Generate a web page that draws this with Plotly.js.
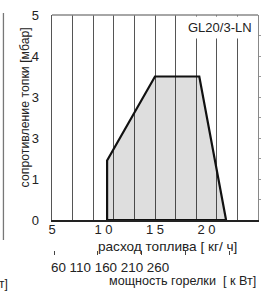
<!DOCTYPE html>
<html>
<head>
<meta charset="utf-8">
<script src="https://cdn.plot.ly/plotly-3.0.1.min.js"></script>
<style>html,body{margin:0;padding:0;background:#fff;}#chart{width:264px;height:291px;}</style>
</head>
<body>
<div id="chart"></div>
<script>
// Working-range polygon of burner GL20/3-LN
const flowKgH = [10.35, 10.35, 15.0, 19.3, 21.9, 10.35];
const resistanceMbar = [0, 1.45, 3.5, 3.5, 0, 0];

// Axis ticks
const gridVals = [7, 9, 11, 13, 15, 17, 19, 21, 23];
const flowTickVals = [5, 10, 15, 20, 25];
const flowTickText = ['5', '1 0', '1 5', '2 0', '2 5'];
const yTickVals = [0, 1, 2, 3, 4, 5];
const yTickText = ['0', '1', '3', '3', '4', '5'];
const yMinorVals = [0.5, 1, 1.5, 2, 2.5, 3, 3.5, 4, 4.5];
const powerTickPos = [5.2, 9.45, 13.7, 17.95, 22.2];
const powerLabels = ['60', '110', '160', '210', '260'];

const F = 'Liberation Sans, Arial, sans-serif';

const traces = [
  {x: flowKgH, y: resistanceMbar, type: 'scatter', mode: 'lines', fill: 'toself',
   fillcolor: 'rgba(0,0,0,0.13)', line: {color: '#111', width: 2.2}, hoverinfo: 'skip'},
  {x: [5, 25], y: [0, 0], xaxis: 'x3', yaxis: 'y', mode: 'markers', marker: {opacity: 0}, hoverinfo: 'skip'},
  {x: [5, 25], y: [0, 0], xaxis: 'x', yaxis: 'y2', mode: 'markers', marker: {opacity: 0}, hoverinfo: 'skip'},
  {x: [5, 25], y: [0, 0], xaxis: 'x2', yaxis: 'y', mode: 'markers', marker: {opacity: 0}, hoverinfo: 'skip'}
];

const H = 235, B = 250; // paper height px, paper bottom px
const py = v => (B - v) / H;
const px = v => (v - 51.7) / 206.6;

const layout = {
  width: 264, height: 291,
  margin: {l: 52, r: 6, t: 15, b: 41, pad: 0},
  paper_bgcolor: '#fff', plot_bgcolor: '#fff',
  showlegend: false,
  font: {family: F, size: 12, color: '#222'},
  xaxis: {range: [5, 25], tickvals: gridVals, showticklabels: false, ticks: '',
          showgrid: true, gridcolor: '#555', gridwidth: 1, zeroline: false,
          showline: true, linecolor: '#222', linewidth: 1.5, mirror: false},
  xaxis3: {range: [5, 25], overlaying: 'x', anchor: 'y', side: 'bottom',
           tickvals: flowTickVals, ticktext: flowTickText, ticks: '', showgrid: false,
           ticklabelstandoff: 0,
           zeroline: false, showline: false, tickfont: {family: F, size: 13, color: '#222'}},
  xaxis2: {range: [5, 25], overlaying: 'x', anchor: 'free', position: 0, side: 'bottom',
           tickvals: powerTickPos, showticklabels: false, ticks: 'outside', ticklen: 4,
           tickwidth: 1, tickcolor: '#444', showgrid: false, zeroline: false, showline: false},
  yaxis: {range: [0, 5], domain: [30 / H, 1], tickvals: yTickVals, ticktext: yTickText,
          ticks: '', ticklabelstandoff: 9, showgrid: false, zeroline: false,
          showline: true, linecolor: '#555', linewidth: 1.3, mirror: false,
          tickfont: {family: F, size: 13, color: '#222'}},
  yaxis2: {range: [0, 5], overlaying: 'y', side: 'right', tickvals: yMinorVals,
           showticklabels: false, ticks: 'outside', ticklen: 2, tickcolor: '#999',
           showgrid: false, zeroline: false, showline: true, linecolor: '#888', linewidth: 1.2},
  shapes: [
    {type: 'line', xref: 'paper', yref: 'paper', x0: 0, x1: 1, y0: 1, y1: 1,
     line: {color: '#888', width: 1.3}},
    {type: 'line', xref: 'paper', yref: 'paper', x0: px(3), x1: px(3), y0: py(13), y1: py(240),
     line: {color: '#777', width: 1.3}}
  ],
  annotations: [
    {text: 'GL20/3-LN', xref: 'paper', yref: 'paper', x: px(256), y: 1, xanchor: 'right',
     yanchor: 'top', yshift: -1, showarrow: false, bgcolor: '#fff', borderpad: 3,
     font: {family: F, size: 13, color: '#222'}},
    {text: 'сопротивление топки [мбар]', xref: 'paper', yref: 'paper', x: px(25), y: py(107),
     textangle: -90, showarrow: false, xanchor: 'center', yanchor: 'middle',
     font: {family: F, size: 12.3, color: '#222'}},
    {text: 'расход топлива [ кг/ ч]', xref: 'paper', yref: 'paper', x: px(167.5), y: py(246.5),
     showarrow: false, xanchor: 'center', yanchor: 'middle', borderpad: 0,
     font: {family: F, size: 13.6, color: '#222'}},
    {text: powerLabels.join(' '), xref: 'paper', yref: 'paper', x: px(49), y: py(267.5),
     showarrow: false, xanchor: 'left', yanchor: 'middle',
     font: {family: F, size: 13.4, color: '#222'}},
    {text: 'мощность горелки  [ к Вт]', xref: 'paper', yref: 'paper', x: px(258), y: py(281),
     showarrow: false, xanchor: 'right', yanchor: 'middle',
     font: {family: F, size: 12.6, color: '#222'}},
    {text: 'т]', xref: 'paper', yref: 'paper', x: px(10), y: py(284),
     showarrow: false, xanchor: 'right', yanchor: 'middle',
     font: {family: F, size: 12, color: '#222'}}
  ]
};

Plotly.newPlot('chart', traces, layout, {displayModeBar: false, staticPlot: true});
</script>
</body>
</html>
